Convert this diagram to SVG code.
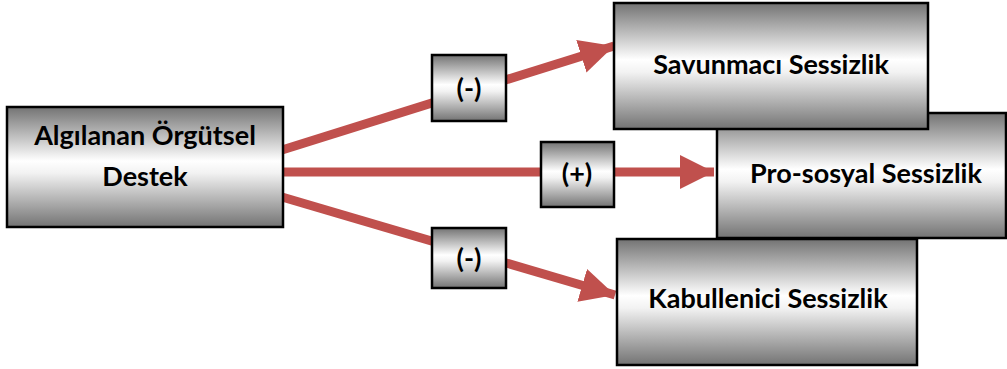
<svg xmlns="http://www.w3.org/2000/svg" width="1007" height="369" viewBox="0 0 1007 369">
<defs>
<linearGradient id="g" x1="0" y1="0" x2="0" y2="1">
<stop offset="0" stop-color="#737373"/>
<stop offset="0.45" stop-color="#ffffff"/>
<stop offset="0.55" stop-color="#f2f2f2"/>
<stop offset="1" stop-color="#737373"/>
</linearGradient>
<marker id="ah" viewBox="0 0 10 10" refX="10" refY="5" markerWidth="3.8" markerHeight="3.8" orient="auto" markerUnits="strokeWidth">
<path d="M0,0 L10,5 L0,10 z" fill="#C0504D"/>
</marker>
</defs>
<style>
.box{fill:url(#g);stroke:#000;stroke-width:2.5}
.t{font-family:Lato,"Liberation Sans",sans-serif;font-weight:bold;font-size:27px;fill:#000;text-anchor:middle}
.c{stroke:#C0504D;stroke-width:9;fill:none}
</style>
<g id="connectors">
<line class="c" x1="282" y1="150" x2="614" y2="46" marker-end="url(#ah)"/>
<line class="c" x1="282" y1="172" x2="714" y2="172" marker-end="url(#ah)"/>
<line class="c" x1="282" y1="197" x2="615" y2="295" marker-end="url(#ah)"/>
</g>
<g id="source">
<rect class="box" x="7" y="107" width="276" height="120"/>
<text class="t" x="145" y="145">Algılanan Örgütsel</text>
<text class="t" x="145" y="186">Destek</text>
</g>
<g id="prososyal">
<rect class="box" x="717" y="113" width="289" height="125"/>
<text class="t" x="866" y="183">Pro-sosyal Sessizlik</text>
</g>
<g id="savunmaci">
<rect class="box" x="614" y="3" width="314" height="126"/>
<text class="t" x="771" y="74">Savunmacı Sessizlik</text>
</g>
<g id="kabullenici">
<rect class="box" x="617" y="239" width="300" height="126"/>
<text class="t" x="768" y="308">Kabullenici Sessizlik</text>
</g>
<g id="label-neg1">
<rect class="box" x="432" y="55" width="74" height="66"/>
<text class="t" x="469" y="98">(-)</text>
</g>
<g id="label-pos">
<rect class="box" x="541" y="142" width="73" height="65"/>
<text class="t" x="577" y="183">(+)</text>
</g>
<g id="label-neg2">
<rect class="box" x="432" y="228" width="74" height="60"/>
<text class="t" x="469" y="268">(-)</text>
</g>
</svg>
